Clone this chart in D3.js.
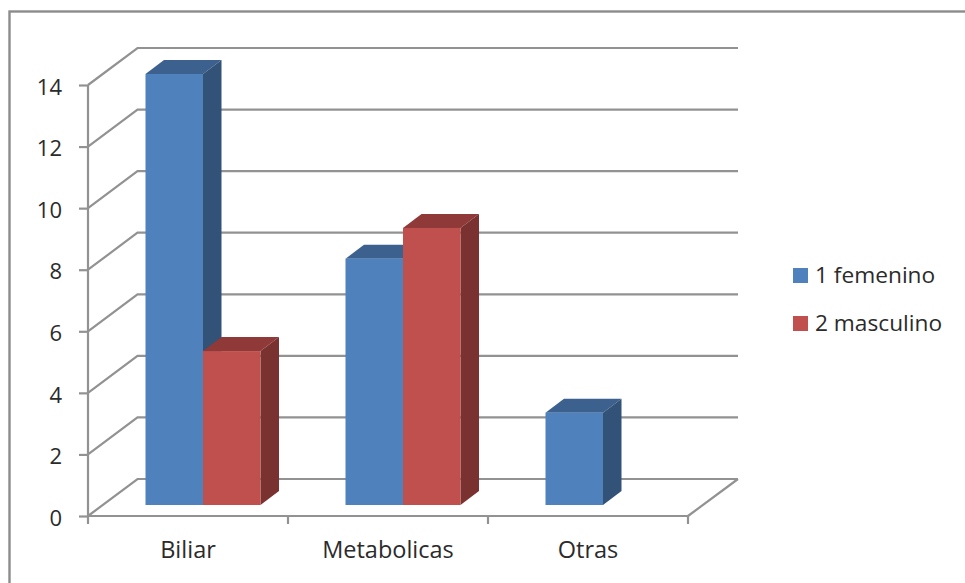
<!DOCTYPE html>
<html>
<head>
<meta charset="utf-8">
<script src="https://cdn.jsdelivr.net/npm/d3@7"></script>
<style>
  html, body { margin: 0; padding: 0; background: #fff; overflow: hidden; }
  svg { display: block; }
  text { font-family: "Open Sans", Lato, sans-serif; fill: #2b2b2b; }
</style>
</head>
<body>
<svg id="chart" width="965" height="583"></svg>
<script>
// Cases per diagnosis group, split by sex
const categories = ["Biliar", "Metabolicas", "Otras"];
const seriesNames = ["1 femenino", "2 masculino"];
const femenino = [14, 8, 3];
const masculino = [5, 9, 0];
const yTicks = [0, 2, 4, 6, 8, 10, 12, 14];

const frontColors = ["#4f81bd", "#c0504d"];
const topColors = ["#3c618f", "#8f3a38"];
const sideColors = ["#325277", "#7a3230"];
const axisColor = "#929292";
const tickFontSize = 22;
const categoryFontSize = 23.5;
const legendFontSize = 22.7;

const svg = d3.select("#chart");

// Plot box: front floor edge plus the oblique offset to the back wall
const left = 88, right = 688, floorY = 516, topY = 85;
const wallDx = 49.5, wallDy = -37;
// Bars stand partway into the floor, with a shallower depth of their own
const barShiftX = 15, barShiftY = -11, barDx = 18.5, barDy = -14;

const x = d3.scaleBand().domain(categories).range([left, right]).paddingInner(0).paddingOuter(0);
const y = d3.scaleLinear().domain([0, 14]).range([floorY, topY]);
const seriesBand = d3.scaleBand().domain(d3.range(seriesNames.length))
  .range([0, x.bandwidth()]).paddingOuter(0.739).paddingInner(0);

// Chart frame, running past the right and bottom edges of the page
svg.append("rect")
  .attr("x", 9.5).attr("y", 11.5).attr("width", 975).attr("height", 600)
  .attr("fill", "#fff").attr("stroke", "#8c8c8c").attr("stroke-width", 2.4);

const grid = svg.append("g").attr("fill", "none").attr("stroke", axisColor).attr("stroke-width", 2.2);

// Gridlines running along the side wall and the back wall
yTicks.forEach(t => {
  const p = d3.path();
  p.moveTo(left, y(t));
  p.lineTo(left + wallDx, y(t) + wallDy);
  p.lineTo(right + wallDx + 0.5, y(t) + wallDy);
  grid.append("path").attr("d", p.toString());
});

// Right edge of the floor
const floorEdge = d3.path();
floorEdge.moveTo(right, floorY);
floorEdge.lineTo(right + wallDx + 0.5, floorY + wallDy);
grid.append("path").attr("d", floorEdge.toString());

// Value axis, drawn with the library's axis generator
const yAxis = svg.append("g")
  .attr("transform", `translate(${left},0)`)
  .call(d3.axisLeft(y).tickValues(yTicks).tickSize(9).tickPadding(17).tickFormat(d3.format("d")));
yAxis.selectAll("path, line").attr("stroke", axisColor).attr("stroke-width", 2.2);
yAxis.select(".domain").attr("d", `M0,${floorY}V${topY}`);
yAxis.selectAll("text")
  .attr("font-size", tickFontSize)
  .attr("dy", "0.42em")
  .style("font-family", '"Open Sans", Lato, sans-serif');

// Category axis: ticks sit on the band edges
const xAxis = svg.append("g").attr("transform", `translate(0,${floorY})`);
xAxis.append("path").attr("d", `M${left},0H${right}`).attr("stroke", axisColor).attr("stroke-width", 2.2);
xAxis.selectAll("line").data([...categories.map(c => x(c)), right]).join("line")
  .attr("x1", d => d).attr("x2", d => d).attr("y1", 0).attr("y2", 8)
  .attr("stroke", axisColor).attr("stroke-width", 2.2);
xAxis.selectAll("text").data(categories).join("text")
  .attr("x", d => x(d) + x.bandwidth() / 2)
  .attr("y", 42)
  .attr("text-anchor", "middle")
  .attr("font-size", categoryFontSize)
  .text(d => d);

// One 3D column: top and side parallelograms, then the front face
function drawColumn(g, value, cat, s) {
  if (!value) return;
  const x0 = x(cat) + seriesBand(s) + barShiftX;
  const x1 = x0 + seriesBand.bandwidth();
  const yBase = y(0) + barShiftY;
  const yTop = y(value) + barShiftY;
  g.append("path")
    .attr("d", `M${x0},${yTop}L${x0 + barDx},${yTop + barDy}L${x1 + barDx},${yTop + barDy}L${x1},${yTop}Z`)
    .attr("fill", topColors[s]);
  g.append("path")
    .attr("d", `M${x1},${yTop}L${x1 + barDx},${yTop + barDy}L${x1 + barDx},${yBase + barDy}L${x1},${yBase}Z`)
    .attr("fill", sideColors[s]);
  g.append("rect")
    .attr("x", x0).attr("y", yTop)
    .attr("width", x1 - x0).attr("height", yBase - yTop)
    .attr("fill", frontColors[s]);
}

const bars = svg.append("g");
categories.forEach((c, i) => {
  // Left-to-right order keeps the neighbouring column's face on top of the side
  drawColumn(bars, femenino[i], c, 0);
  drawColumn(bars, masculino[i], c, 1);
});

// Legend
const legend = svg.append("g");
const legendY = d3.scalePoint().domain(seriesNames).range([275.5, 323.5]);
seriesNames.forEach((name, s) => {
  legend.append("rect")
    .attr("x", 793).attr("y", legendY(name) - 7.5)
    .attr("width", 15).attr("height", 15)
    .attr("fill", frontColors[s]);
  legend.append("text")
    .attr("x", 815).attr("y", legendY(name) + 7.5)
    .attr("font-size", legendFontSize)
    .text(name);
});
</script>
</body>
</html>
